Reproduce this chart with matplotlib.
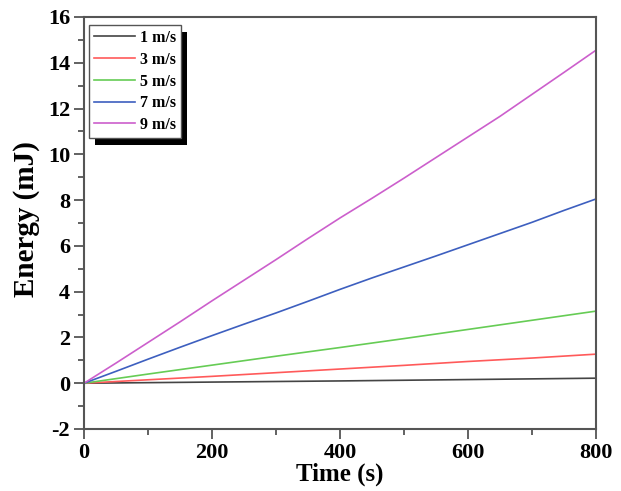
import matplotlib.pyplot as plt
from matplotlib.patches import Rectangle
from matplotlib.ticker import MultipleLocator

plt.rcParams['font.family'] = ['Liberation Serif', 'DejaVu Serif']
plt.rcParams['font.weight'] = 'bold'
plt.rcParams['axes.unicode_minus'] = False

# time axis (s)
t_fine = [0, 50, 100, 150, 200, 250, 300, 350, 400, 450, 500, 550, 600, 650, 700, 750, 800]
t_mid = [0, 100, 200, 300, 400, 500, 600, 700, 800]
t_coarse = [0, 200, 400, 600, 800]

# energy (mJ)
e_1 = [0, 0.05, 0.10, 0.16, 0.22]
e_3 = [0, 0.15, 0.30, 0.46, 0.62, 0.78, 0.95, 1.10, 1.27]
e_5 = [0, 0.40, 0.79, 1.18, 1.56, 1.95, 2.35, 2.75, 3.15]
e_7 = [0, 0.52, 1.05, 1.57, 2.08, 2.58, 3.07, 3.58, 4.10, 4.60, 5.08, 5.56, 6.05, 6.54, 7.03, 7.55, 8.05]
e_9 = [0, 0.88, 1.78, 2.68, 3.60, 4.50, 5.40, 6.32, 7.22, 8.08, 8.96, 9.86, 10.76, 11.66, 12.62, 13.58, 14.55]

labels = ['1 m/s', '3 m/s', '5 m/s', '7 m/s', '9 m/s']
colors = ['#444444', '#ff5a5a', '#66cc55', '#3d5fbf', '#cc5fcc']

fig = plt.figure(figsize=(6.21, 4.91), dpi=100)
ax = fig.add_axes([84 / 621, 62 / 491, 512 / 621, 412 / 491])

ax.plot(t_coarse, e_1, color=colors[0], lw=1.2, label=labels[0])
ax.plot(t_mid, e_3, color=colors[1], lw=1.2, label=labels[1])
ax.plot(t_mid, e_5, color=colors[2], lw=1.2, label=labels[2])
ax.plot(t_fine, e_7, color=colors[3], lw=1.2, label=labels[3])
ax.plot(t_fine, e_9, color=colors[4], lw=1.2, label=labels[4])

ax.set_xlim(0, 800)
ax.set_ylim(-2, 16)
ax.xaxis.set_major_locator(MultipleLocator(200))
ax.xaxis.set_minor_locator(MultipleLocator(100))
ax.yaxis.set_major_locator(MultipleLocator(2))
ax.yaxis.set_minor_locator(MultipleLocator(1))
ax.tick_params(which='both', direction='out', top=False, right=False, width=1.3, colors='#555555')
ax.tick_params(which='major', length=7, labelsize=16, labelcolor='black', pad=3)
ax.tick_params(which='minor', length=4)
for s in ax.spines.values():
    s.set_linewidth(1.5)
    s.set_color('#555555')

ax.set_xlabel('Time (s)', fontsize=18, fontweight='bold', labelpad=0)
ax.set_ylabel('Energy (mJ)', fontsize=21, fontweight='bold')
ax.yaxis.set_label_coords(-0.085, 0.51)

leg = ax.legend(loc='upper left', bbox_to_anchor=(0.01, 0.98), fontsize=11.5,
                frameon=True, fancybox=False, edgecolor='#555555', framealpha=1,
                handlelength=2.6, labelspacing=0.36, borderpad=0.3, borderaxespad=0,
                handletextpad=0.3)
leg.get_frame().set_linewidth(1.0)
leg.set_zorder(6)

# heavy drop shadow behind legend box
fig.canvas.draw()
bb = leg.get_window_extent()
shadow = Rectangle((bb.x0 + 6, bb.y0 - 7), bb.width, bb.height, transform=None,
                   facecolor='black', edgecolor='none', zorder=5.5)
ax.add_artist(shadow)

fig.savefig('out.png', dpi=100)
